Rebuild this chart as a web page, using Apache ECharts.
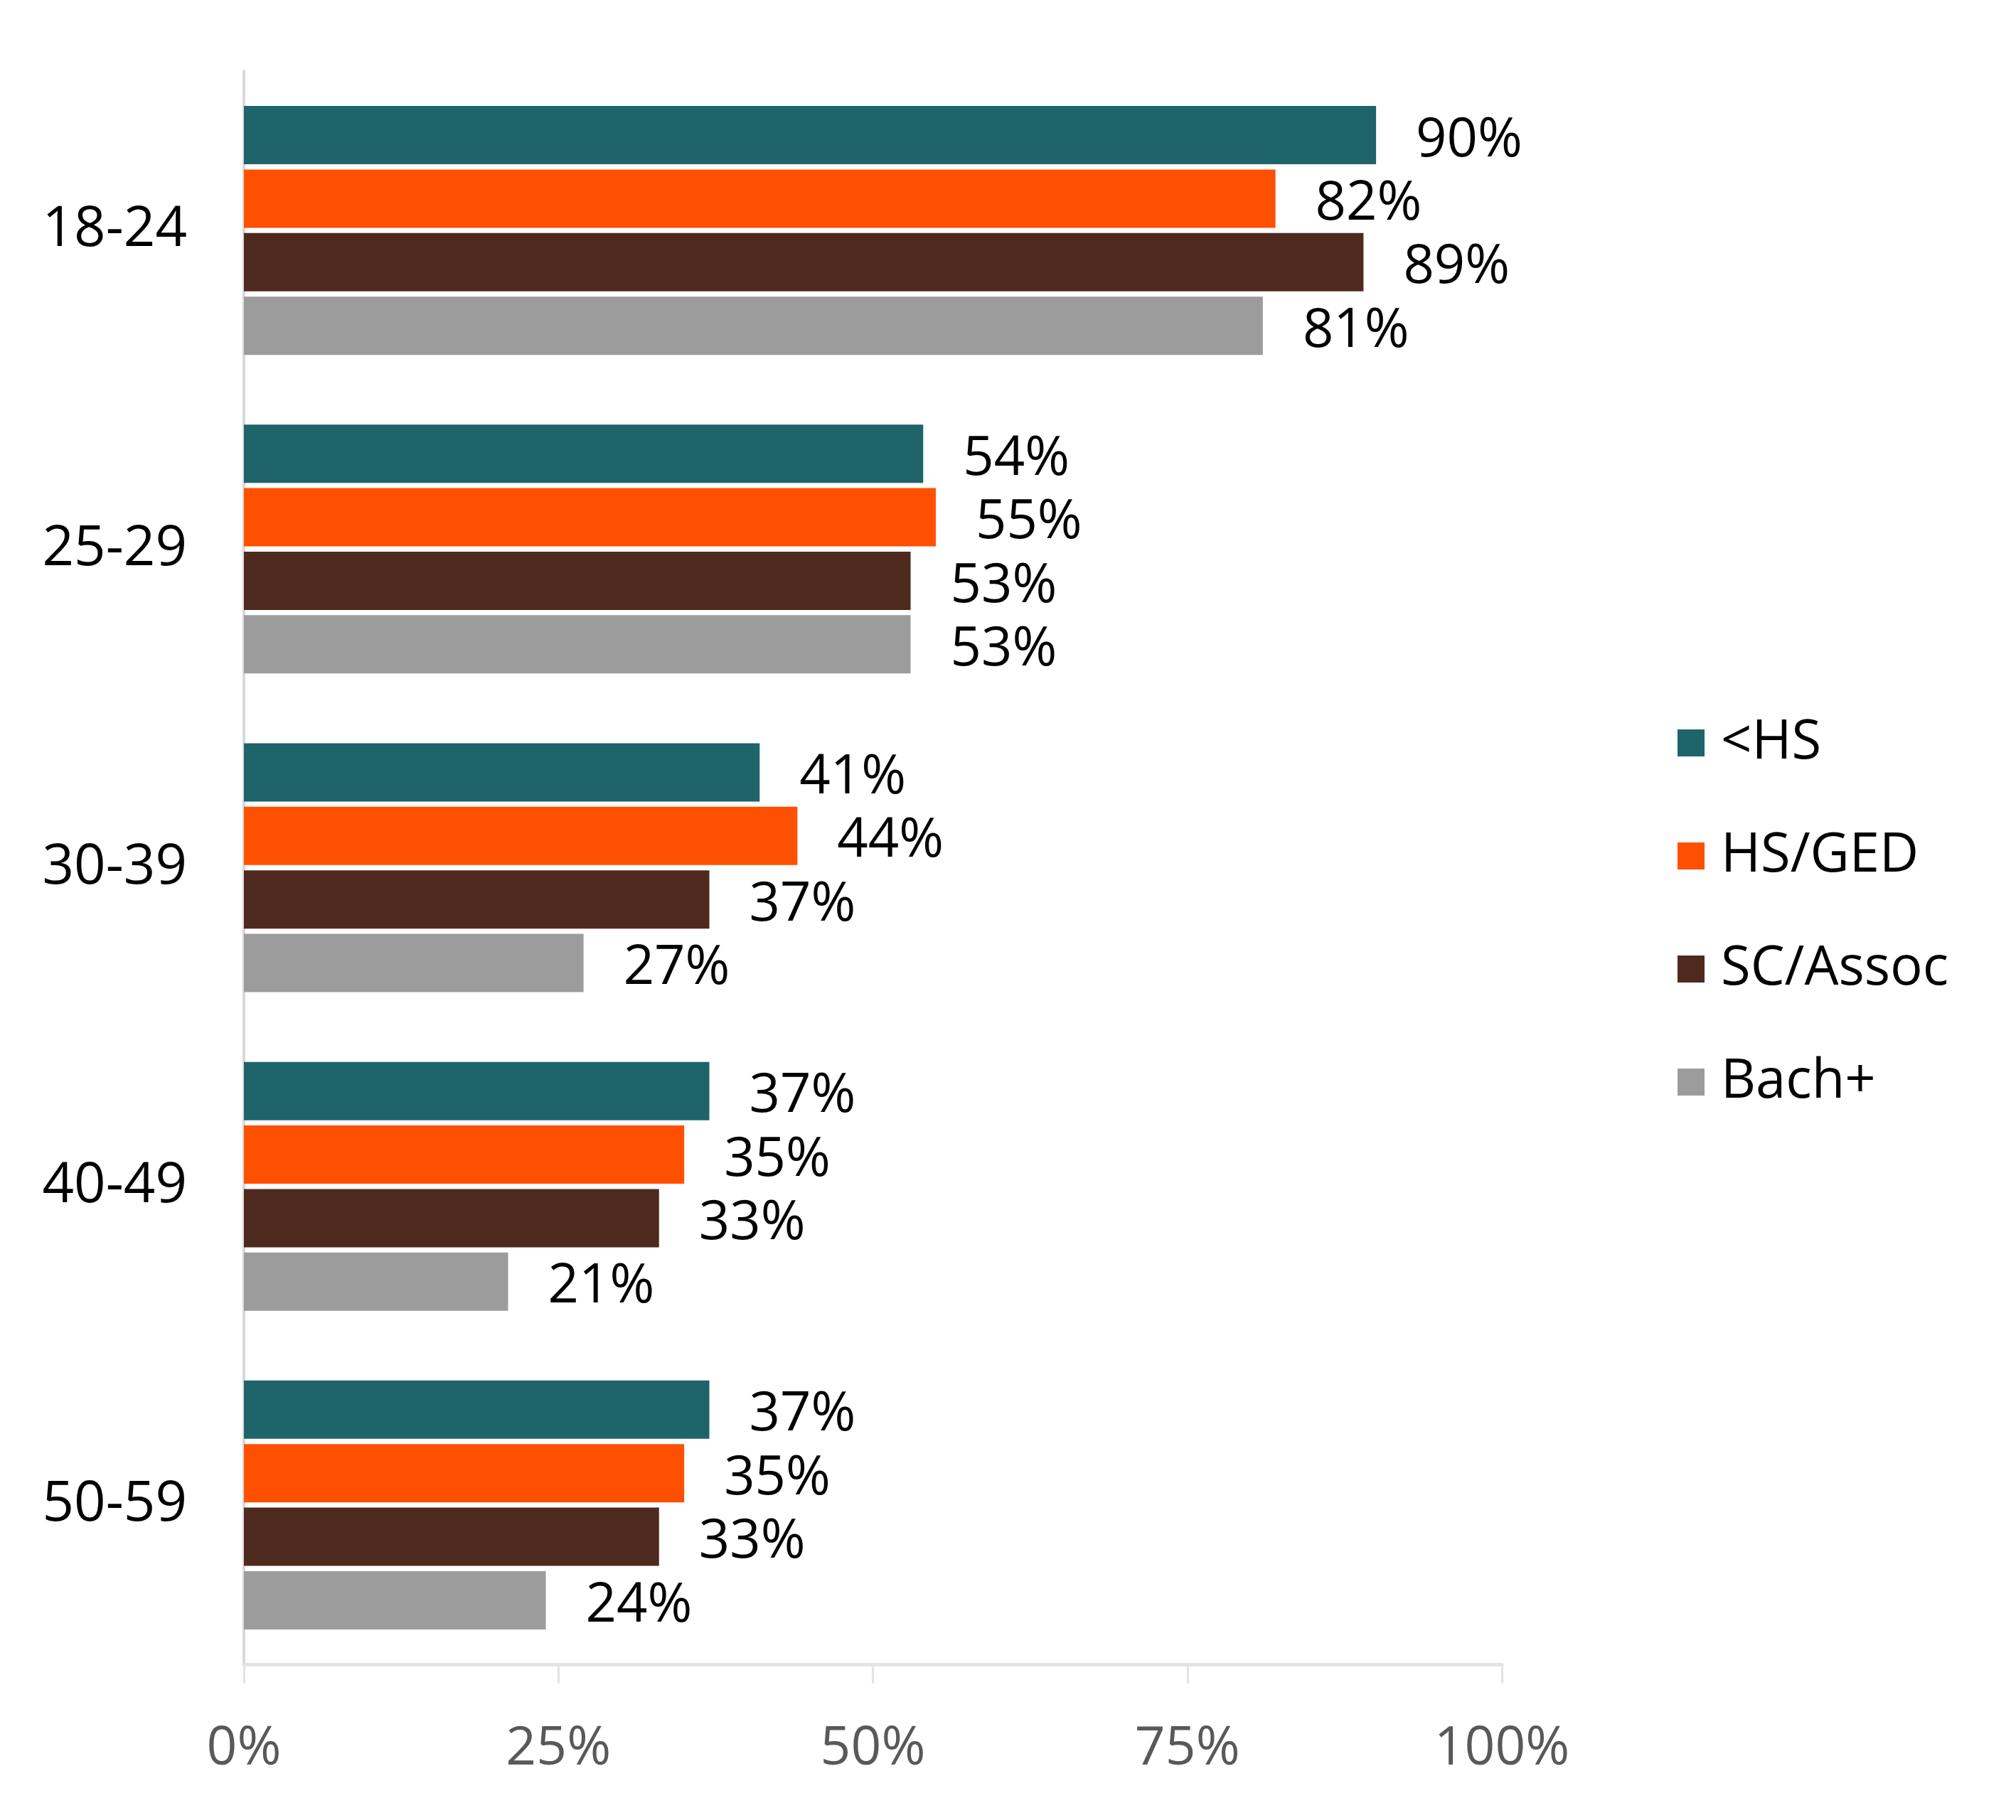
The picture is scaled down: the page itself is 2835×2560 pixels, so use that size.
<!DOCTYPE html>
<html>
<head>
<meta charset="utf-8">
<script src="https://cdn.jsdelivr.net/npm/echarts@6/dist/echarts.min.js"></script>
<style>
  html, body { margin: 0; padding: 0; background: #fff; }
  #chart { width: 2835px; height: 2560px; }
</style>
</head>
<body>
<div id="chart"></div>
<script>
// age groups, top to bottom
const ageGroups = ["18-24", "25-29", "30-39", "40-49", "50-59"];
const seriesNames = ["<HS", "HS/GED", "SC/Assoc", "Bach+"];
const seriesColors = ["#1F636B", "#FF5000", "#4E2A1E", "#9C9C9C"];

// percent of each group, same order as ageGroups
const lessHS = [90, 54, 41, 37, 37];
const hsGed = [82, 55, 44, 35, 35];
const scAssoc = [89, 53, 37, 33, 33];
const bachPlus = [81, 53, 27, 21, 24];

const xTicks = [0, 25, 50, 75, 100];

const fontFamily = "'Open Sans', 'Noto Sans', sans-serif";
const seriesData = [lessHS, hsGed, scAssoc, bachPlus];

const chart = echarts.init(document.getElementById("chart"));

chart.setOption({
  backgroundColor: "#fff",
  animation: false,
  textStyle: { fontFamily },
  grid: {
    left: 343,
    right: 723,
    top: 100,
    bottom: 219,
    containLabel: false
  },
  legend: {
    orient: "vertical",
    left: 2354,
    top: 1002,
    itemWidth: 38,
    itemHeight: 38,
    itemGap: 83,
    icon: "rect",
    data: seriesNames,
    textStyle: { fontSize: 76, color: "#000", fontFamily, padding: [0, 0, 0, 18] }
  },
  xAxis: {
    type: "value",
    min: 0,
    max: 100,
    interval: 25,
    axisLine: { show: true, lineStyle: { color: "#E3E3E3", width: 5 } },
    axisTick: { show: true, length: 27, lineStyle: { color: "#E3E3E3", width: 3 } },
    splitLine: { show: false },
    axisLabel: {
      margin: 82,
      fontSize: 75,
      color: "#595959",
      fontFamily,
      formatter: (v) => (xTicks.includes(v) ? v + "%" : "")
    }
  },
  yAxis: {
    type: "category",
    data: ageGroups,
    inverse: true,
    axisLine: { show: true, lineStyle: { color: "#D9D9D9", width: 4 } },
    axisTick: { show: false },
    axisLabel: {
      margin: 80,
      fontSize: 78,
      color: "#000",
      fontFamily
    }
  },
  series: seriesNames.map((name, i) => ({
    name,
    type: "bar",
    data: seriesData[i],
    barWidth: 82,
    barGap: "9%",
    itemStyle: { color: seriesColors[i] },
    label: {
      show: true,
      position: "right",
      distance: 56,
      offset: [0, 8],
      fontSize: 76,
      color: "#000",
      fontFamily,
      formatter: (p) => p.value + "%"
    }
  }))
});
</script>
</body>
</html>
